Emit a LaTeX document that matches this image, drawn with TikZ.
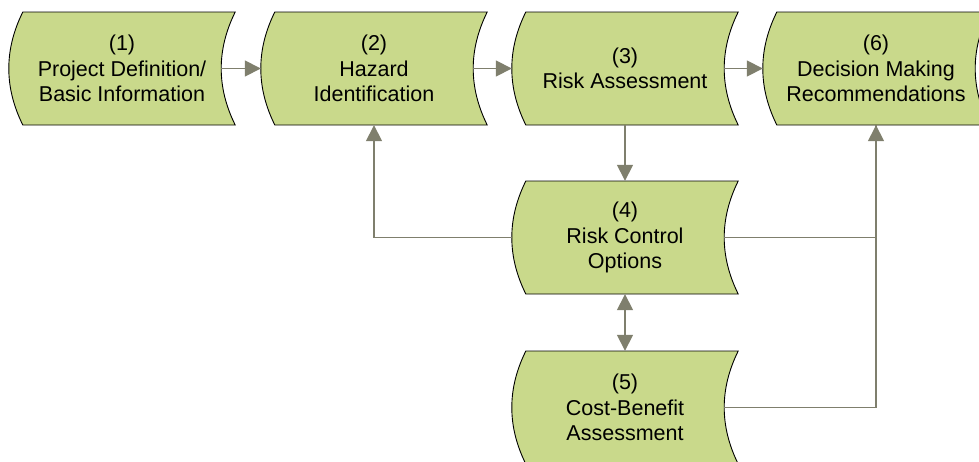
\documentclass[tikz,border=0pt]{standalone}
\usepackage{fontspec}
\setmainfont{Liberation Sans}
\usetikzlibrary{arrows.meta,backgrounds}
\definecolor{boxfill}{HTML}{C9D98B}
\definecolor{conn}{HTML}{7F7F6D}
\newcommand\stshape[1]{%
  \path[shp] ([shift={(14,-56.5)}]#1.west) -- ([shift={(0,-56.5)}]#1.east)
    .. controls ([shift={(-18.67,-18.83)}]#1.east) and ([shift={(-18.67,18.83)}]#1.east) .. ([shift={(0,56.5)}]#1.east)
    -- ([shift={(14,56.5)}]#1.west)
    .. controls ([shift={(-4.67,18.83)}]#1.west) and ([shift={(-4.67,-18.83)}]#1.west) .. cycle;}
\begin{document}
\begin{tikzpicture}[x=1pt,y=-1pt,
  stbox/.style={minimum width=226pt,minimum height=113pt,inner sep=0pt,align=center,
    font=\fontsize{21.5}{25.5}\selectfont},
  shp/.style={fill=boxfill,draw=black,line width=0.9pt},
  link/.style={draw=conn,line width=1.6pt},
  tip/.style={-{Triangle[length=16pt,width=16pt,fill=conn]}},
  dtip/.style={{Triangle[length=16pt,width=16pt,fill=conn]}-{Triangle[length=16pt,width=16pt,fill=conn]}}]
\useasboundingbox (0,0) rectangle (979,461);
\clip (0,0) rectangle (979,461);
\node[stbox] (b1) at (122,68.5) {(1)\\Project Definition/\\Basic Information};
\node[stbox] (b2) at (374,68.5) {(2)\\Hazard\\Identification};
\node[stbox] (b3) at (625,68.5) {(3)\\Risk Assessment};
\node[stbox] (b6) at (876,68.5) {(6)\\Decision Making\\Recommendations};
\node[stbox] (b4) at (625,237.5) {(4)\\Risk Control\\Options};
\node[stbox] (b5) at (625,407.5) {(5)\\Cost-Benefit\\Assessment};
\begin{scope}[on background layer]
  \clip (0,0) rectangle (979,461);
  \stshape{b1}
  \stshape{b2}
  \stshape{b3}
  \stshape{b6}
  \stshape{b4}
  \stshape{b5}
\end{scope}
\draw[link,tip] ([xshift=-14pt]b1.east) -- (b2.west);
\draw[link,tip] ([xshift=-14pt]b2.east) -- (b3.west);
\draw[link,tip] ([xshift=-14pt]b3.east) -- (b6.west);
\draw[link,tip] (b3.south) -- (b4.north);
\draw[link,tip] (b4.west) -| (b2.south);
\draw[link,dtip] (b4.south) -- (b5.north);
\draw[link,tip] ([xshift=-14pt]b4.east) -| (b6.south);
\draw[link] ([xshift=-14pt]b5.east) -| (b6.south);
\end{tikzpicture}
\end{document}
